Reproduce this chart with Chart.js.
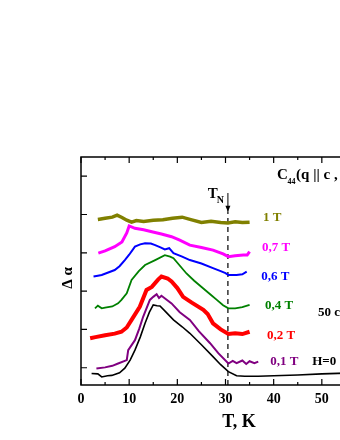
<!DOCTYPE html>
<html>
<head>
<meta charset="utf-8">
<script src="https://cdn.jsdelivr.net/npm/chart.js@4/dist/chart.umd.min.js"></script>
<style>
  html, body { margin: 0; padding: 0; background: #fff; }
  #wrap { width: 340px; height: 440px; overflow: hidden; }
</style>
</head>
<body>
<div id="wrap"><canvas id="chart" width="400" height="440"></canvas></div>
<script>
// T in K, attenuation change in arbitrary (shifted) units
const tempH0 = [2.2, 3.5, 4.3, 5.5, 6.4, 8, 9.1, 10.2, 11.2, 12.3, 13.3, 14.2, 15, 15.8, 16.4, 17.5, 19.2, 21, 22.6, 25, 27.4, 29, 30.6, 32.3, 34, 36.8, 40, 45, 50, 55, 60];
const alphaH0 = [0.85, 0.84, 0.76, 0.79, 0.80, 0.87, 0.99, 1.20, 1.46, 1.80, 2.16, 2.45, 2.64, 2.62, 2.61, 2.47, 2.25, 2.07, 1.90, 1.60, 1.29, 1.08, 0.90, 0.79, 0.78, 0.78, 0.79, 0.81, 0.84, 0.86, 0.88];

const temp01 = [3.2, 5, 6.5, 7.7, 9.5, 9.8, 11.2, 12.1, 12.9, 14.3, 15, 15.7, 16.2, 16.7, 18.8, 20.5, 22.6, 24.5, 26.8, 28.5, 30.6, 31.5, 32.3, 33.5, 34.3, 35, 36, 36.8];
const alpha01 = [0.98, 1.01, 1.05, 1.11, 1.20, 1.46, 1.72, 2.02, 2.33, 2.77, 2.85, 2.92, 2.82, 2.88, 2.68, 2.45, 2.25, 1.95, 1.64, 1.38, 1.11, 1.18, 1.12, 1.19, 1.10, 1.17, 1.12, 1.16];

const temp02 = [1.9, 3, 5, 7, 8.4, 9.5, 10.5, 12.2, 13.6, 14.7, 16, 16.7, 18, 18.8, 20, 21.2, 23, 25.4, 26.3, 27.4, 29, 30.6, 32, 33.5, 35];
const alpha02 = [1.77, 1.80, 1.85, 1.89, 1.94, 2.05, 2.25, 2.59, 3.03, 3.11, 3.30, 3.38, 3.33, 3.25, 3.08, 2.85, 2.70, 2.51, 2.40, 2.16, 2.00, 1.88, 1.90, 1.88, 1.94];

const temp04 = [2.9, 3.5, 4.3, 5, 6.5, 7.7, 8.4, 9.5, 10.5, 12, 13.3, 15.4, 17.4, 18.5, 19.2, 21.9, 23.5, 25.4, 27, 28.2, 29.5, 30.6, 32, 33.5, 35];
const alpha04 = [2.55, 2.62, 2.55, 2.57, 2.60, 2.68, 2.77, 2.94, 3.29, 3.52, 3.68, 3.81, 3.94, 3.90, 3.86, 3.46, 3.27, 3.07, 2.90, 2.77, 2.63, 2.55, 2.55, 2.58, 2.64];

const temp06 = [2.6, 3.5, 4.3, 7, 8, 9.1, 10, 11.2, 12.3, 13.3, 14.5, 15.4, 16.5, 17.4, 18.3, 19.2, 21, 22.6, 25, 27.4, 29, 30, 30.6, 32.3, 33.5, 34.4];
const alpha06 = [3.38, 3.40, 3.42, 3.55, 3.65, 3.81, 3.95, 4.16, 4.22, 4.25, 4.24, 4.20, 4.14, 4.09, 4.12, 3.99, 3.90, 3.81, 3.72, 3.60, 3.52, 3.47, 3.42, 3.42, 3.44, 3.51];

const temp07 = [3.6, 5, 7, 8.5, 9.5, 10, 11.2, 13, 14.7, 16.7, 18.8, 20.5, 22.6, 25, 27.4, 29.5, 30.6, 32, 33.7, 34.5, 35];
const alpha07 = [3.99, 4.05, 4.16, 4.28, 4.52, 4.70, 4.64, 4.60, 4.55, 4.49, 4.42, 4.33, 4.20, 4.14, 4.07, 3.97, 3.90, 3.92, 3.94, 3.94, 4.03];

const temp1 = [3.5, 5, 6.5, 7.5, 8.5, 9.5, 10.5, 11.5, 13, 15, 17, 19, 21, 23, 25, 27, 29, 30.5, 32, 33.5, 35];
const alpha1 = [4.87, 4.90, 4.93, 4.98, 4.92, 4.85, 4.80, 4.84, 4.82, 4.85, 4.86, 4.90, 4.93, 4.86, 4.79, 4.82, 4.79, 4.78, 4.81, 4.79, 4.80];

const tNeel = 30.5;
const xTicks = [0, 10, 20, 30, 40, 50, 60];

const series = [
  {t: temp1, a: alpha1, color: '#808000', width: 3.5},
  {t: temp07, a: alpha07, color: '#ff00ff', width: 3},
  {t: temp06, a: alpha06, color: '#0000ff', width: 2},
  {t: temp04, a: alpha04, color: '#008000', width: 1.8},
  {t: temp02, a: alpha02, color: '#ff0000', width: 4},
  {t: temp01, a: alpha01, color: '#800080', width: 2},
  {t: tempH0, a: alphaH0, color: '#000000', width: 1.6}
];

// text labels placed in data units
const notes = [
  {text: '1 T', x: 37.8, y: 4.93, color: '#808000'},
  {text: '0,7 T', x: 37.6, y: 4.13, color: '#ff00ff'},
  {text: '0,6 T', x: 37.4, y: 3.37, color: '#0000ff'},
  {text: '0,4 T', x: 38.2, y: 2.61, color: '#008000'},
  {text: '0,2 T', x: 38.6, y: 1.85, color: '#ff0000'},
  {text: '0,1 T', x: 39.3, y: 1.17, color: '#800080'},
  {text: 'H=0', x: 48.0, y: 1.17, color: '#000000'},
  {text: '50 cm⁻¹', x: 49.2, y: 2.45, color: '#000000'}
];

const serif = '"Liberation Serif", "Times New Roman", serif';

const datasets = series.map(s => ({
  data: s.t.map((t, i) => ({x: t, y: s.a[i]})),
  borderColor: s.color,
  borderWidth: s.width,
  pointRadius: 0,
  tension: 0,
  fill: false
}));
datasets.push({
  data: [{x: tNeel, y: 0.55}, {x: tNeel, y: 5.07}],
  borderColor: '#000',
  borderWidth: 1.2,
  borderDash: [5, 4],
  pointRadius: 0
});

const frame = {
  id: 'frame',
  afterDraw(chart) {
    const {ctx, chartArea: a, scales: {x, y}} = chart;
    ctx.save();
    ctx.strokeStyle = '#000';
    ctx.lineWidth = 1.5;
    ctx.strokeRect(a.left, a.top, a.right - a.left, a.bottom - a.top);
    ctx.lineWidth = 1.2;
    ctx.beginPath();
    for (let t = 0; t <= 60; t += 5) {
      const px = x.getPixelForValue(t);
      const len = t % 10 === 0 ? 6 : 3;
      ctx.moveTo(px, a.bottom); ctx.lineTo(px, a.bottom - len);
      ctx.moveTo(px, a.top); ctx.lineTo(px, a.top + len);
    }
    for (let v = 1; v <= 6; v++) {
      const py = y.getPixelForValue(v);
      ctx.moveTo(a.left, py); ctx.lineTo(a.left + 6, py);
      ctx.moveTo(a.right, py); ctx.lineTo(a.right - 6, py);
    }
    ctx.stroke();

    // T_N arrow
    const ax = x.getPixelForValue(tNeel);
    const ay0 = y.getPixelForValue(5.56), ay1 = y.getPixelForValue(5.07);
    ctx.lineWidth = 1;
    ctx.beginPath();
    ctx.moveTo(ax, ay0); ctx.lineTo(ax, ay1);
    ctx.stroke();
    ctx.beginPath();
    ctx.moveTo(ax - 2.5, ay1 - 6); ctx.lineTo(ax, ay1); ctx.lineTo(ax + 2.5, ay1 - 6);
    ctx.closePath();
    ctx.fillStyle = '#000';
    ctx.fill();

    ctx.textBaseline = 'alphabetic';
    ctx.textAlign = 'left';
    const tx = x.getPixelForValue(26.3), ty = y.getPixelForValue(5.43);
    ctx.font = 'bold 15px ' + serif;
    ctx.fillText('T', tx, ty);
    ctx.font = 'bold 10px ' + serif;
    ctx.fillText('N', tx + 9, ty + 5);

    // labels
    ctx.textBaseline = 'middle';
    ctx.font = 'bold 13px ' + serif;
    notes.forEach(n => {
      ctx.fillStyle = n.color;
      ctx.fillText(n.text, x.getPixelForValue(n.x), y.getPixelForValue(n.y));
    });

    // mode label
    ctx.fillStyle = '#000';
    ctx.textBaseline = 'alphabetic';
    const cx = x.getPixelForValue(40.7), cy = y.getPixelForValue(5.93);
    ctx.font = 'bold 15px ' + serif;
    ctx.fillText('C', cx, cy);
    ctx.font = 'bold 8px ' + serif;
    ctx.fillText('44', cx + 10.5, cy + 5);
    ctx.font = 'bold 15px ' + serif;
    ctx.fillText('(q || c , u || c)', cx + 19, cy);

    // axis titles
    ctx.textAlign = 'center';
    ctx.textBaseline = 'middle';
    ctx.font = 'bold 18px ' + serif;
    ctx.fillText('T, K', 239, 422);
    ctx.translate(68, 278);
    ctx.rotate(-Math.PI / 2);
    ctx.font = 'bold 15px ' + serif;
    ctx.fillText('Δ α', 0, 0);
    ctx.restore();
  }
};

new Chart(document.getElementById('chart'), {
  type: 'line',
  data: {datasets},
  options: {
    responsive: false,
    animation: false,
    layout: {padding: {top: 157, right: 30, left: 0, bottom: 0}},
    plugins: {legend: {display: false}, tooltip: {enabled: false}},
    scales: {
      x: {
        type: 'linear',
        min: 0,
        max: 60,
        afterBuildTicks: scale => { scale.ticks = xTicks.map(v => ({value: v})); },
        afterFit: scale => { scale.height = 55; },
        grid: {display: false, drawTicks: false},
        border: {display: false},
        ticks: {padding: 6, color: '#000', font: {family: serif, size: 14, weight: 'bold'}}
      },
      y: {
        type: 'linear',
        min: 0.55,
        max: 6.5,
        afterFit: scale => { scale.width = 81; },
        grid: {display: false, drawTicks: false},
        border: {display: false},
        ticks: {display: false}
      }
    }
  },
  plugins: [frame]
});
</script>
</body>
</html>
